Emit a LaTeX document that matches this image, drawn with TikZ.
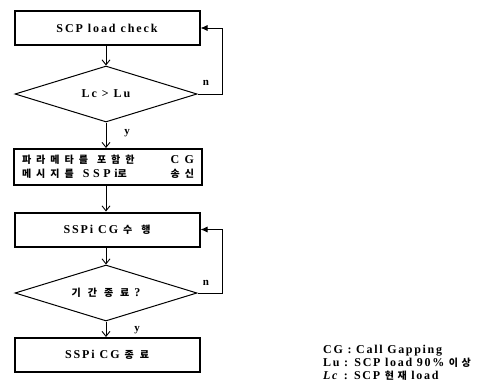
\documentclass[tikz,border=0pt]{standalone}
\usepackage{fontspec}
\setmainfont{Liberation Serif}
\newfontfamily\krfont{Noto Sans CJK KR}
\newcommand{\kr}[2][25]{{\krfont\fontsize{10}{12}\selectfont\addfontfeature{LetterSpace=#1}#2}}
\newcommand{\wide}[2][35]{{\addfontfeature{LetterSpace=#1}#2}}
\usetikzlibrary{shapes.geometric,arrows.meta}
\begin{document}
\begin{tikzpicture}[x=1pt,y=-1pt,
  txt/.style={font=\fontsize{12}{15}\selectfont\bfseries\addfontfeature{LetterSpace=16}},
  box/.style={draw,line width=2pt,minimum width=185pt,minimum height=34pt,inner sep=0pt,txt},
  dec/.style={draw,diamond,line width=1pt,minimum width=182pt,minimum height=56pt,aspect=3.25,inner sep=0pt,txt},
  flow/.style={line width=0.9pt,-{Straight Barb[length=5pt,width=8pt]}},
  back/.style={line width=0.9pt,-{Latex[length=7pt,width=6pt]}},
  lbl/.style={font=\fontsize{11}{12}\selectfont\bfseries}]
\useasboundingbox (0,0) rectangle (495,389);
\node[box] (b1) at (107,28) {SCP load check};
\node[dec] (d1) at (106,94) {Lc > Lu};
\node[box,minimum height=36pt,minimum width=188pt,align=center] (b2) at (108,167)
 {\hbox to 172pt{\kr[50]{파라메타를}\hspace{9pt}\kr[50]{포함한}\hfill\wide[45]{CG}}\\[-1pt]
  \hbox to 172pt{\kr[50]{메시지를}\hspace{9pt}\wide[30]{SSPi}\kr[50]{로}\hfill\kr[50]{송신}}};
\node[box] (b3) at (107,229.5) {SSPi CG \kr[90]{수행}};
\node[dec] (d2) at (106,293) {\kr[70]{기간종료} ?};
\node[box] (b4) at (107,355) {SSPi CG \kr[60]{종료}};
\draw[flow] (b1.south -| d1.north) -- (d1.north);
\draw[flow] (d1.south) -- (d1.south |- b2.north);
\draw[flow] (b2.south -| d1.south) -- (d1.south |- b3.north);
\draw[flow] (b3.south -| d2.north) -- (d2.north);
\draw[flow] (d2.south) -- (d2.south |- b4.north);
\coordinate (r1) at (222,94);
\coordinate (r2) at (222,293);
\draw[back] (d1.east) -- (r1) |- (b1.east);
\draw[back] (d2.east) -- (r2) |- (b3.east);
\node[lbl] (n1) at (206,83) {n};
\node[lbl] (n2) at (206,283) {n};
\node[lbl] (y1) at (127,133) {y};
\node[lbl] (y2) at (137,330) {y};
\node[anchor=north west,align=left,inner sep=0pt,font=\fontsize{12}{12.8}\selectfont\bfseries\addfontfeature{LetterSpace=14}] (leg) at (323,345)
 {CG : Call Gapping\\Lu : SCP load 90\% \kr[35]{이상}\\\textit{Lc} : SCP \kr[35]{현재} load};
\end{tikzpicture}
\end{document}
